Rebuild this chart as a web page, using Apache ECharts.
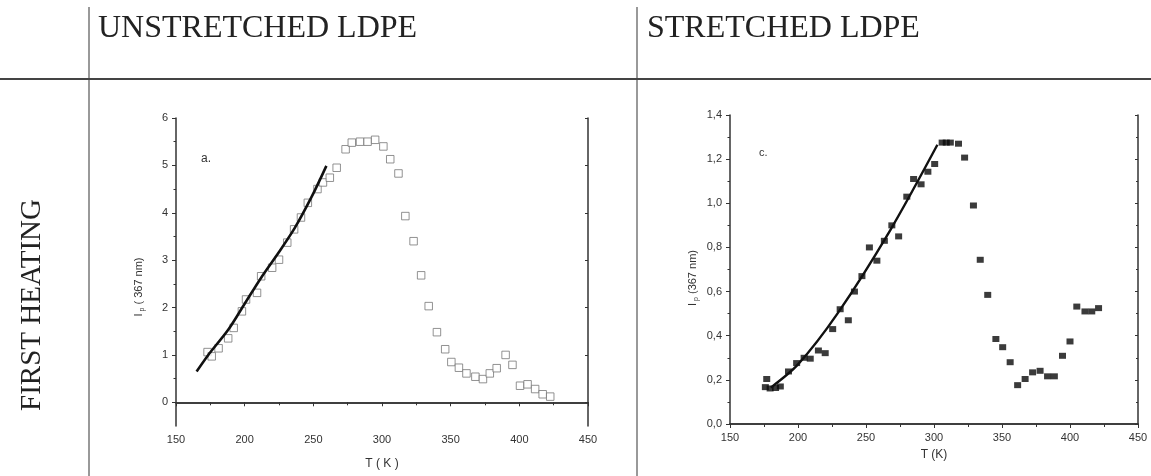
<!DOCTYPE html>
<html>
<head>
<meta charset="utf-8">
<script src="https://cdn.jsdelivr.net/npm/echarts@6/dist/echarts.min.js"></script>
<style>
  html, body {margin:0;padding:0;background:#fff;}
  #chart {width:1151px;height:476px;}
</style>
</head>
<body>
<div id="chart"></div>
<script>
// unstretched LDPE, open squares (T in K, Ip at 367 nm)
var leftT = [173,176,181,188,192,198,201,209,212,220,225,231,236,241,246,253,257,262,267,273.5,
  278,284,289.5,295,301,306,312,317,323,328.5,334,340,346,350.5,356,361.5,368,373.5,378.5,383.5,
  390,395,400.5,406,411.5,417,422.5];
var leftI = [1.06,0.97,1.14,1.35,1.57,1.92,2.17,2.31,2.66,2.84,3.01,3.37,3.65,3.9,4.21,4.5,4.64,4.74,4.95,5.34,
  5.48,5.5,5.5,5.54,5.4,5.13,4.83,3.93,3.4,2.68,2.03,1.48,1.12,0.85,0.73,0.61,0.54,0.49,0.61,0.72,
  1.0,0.79,0.35,0.38,0.28,0.17,0.12];
// fitted curve, left panel
var leftFitT = [165,173.5,188,200,212,224.5,236.5,249,259.5];
var leftFitI = [0.65,1.0,1.53,2.08,2.63,3.15,3.68,4.35,4.99];

// stretched LDPE, filled squares
var rightT = [176,177,179.5,183.5,187,193,199,204.5,209,215,220,225.5,231,237,241.5,247,252.5,258,263.5,269,
  274,280,285,290.5,295.5,300.5,306,309,312,318,322.5,329,334,339.5,345.5,350.5,356,361.5,367,372.5,
  378,383.5,388.5,394.5,400,405,411,416,421];
var rightI = [0.167,0.204,0.161,0.163,0.17,0.238,0.276,0.30,0.296,0.333,0.321,0.43,0.52,0.47,0.60,0.67,0.80,0.74,0.83,0.90,
  0.85,1.03,1.11,1.086,1.143,1.178,1.275,1.275,1.275,1.27,1.207,0.99,0.744,0.585,0.385,0.348,0.28,0.176,0.204,0.234,
  0.241,0.216,0.216,0.309,0.374,0.532,0.51,0.51,0.525];
var rightFitT = [180,200,229,268,302.5];
var rightFitI = [0.165,0.27,0.50,0.88,1.265];

// tick values
var leftYTicks = [0,1,2,3,4,5,6];
var leftYMinor = [0.5,1.5,2.5,3.5,4.5,5.5];

function pairs(xs, ys){
  return xs.map(function(x, i){ return [x, ys[i]]; });
}

var axisColor = '#333';
var labelFont = {fontFamily:'Liberation Sans', fontSize:11, color:'#333'};

function xMain(grid, name, gap){
  return {
    gridIndex: grid, type:'value', min:150, max:450, interval:50, position:'bottom',
    axisLine:{lineStyle:{color:axisColor, width:1.5}},
    axisTick:{inside:false, length:4, lineStyle:{color:axisColor}},
    minorTick:{show:true, splitNumber:2, length:3, lineStyle:{color:axisColor}},
    axisLabel:Object.assign({margin:8}, labelFont),
    splitLine:{show:false},
    name:name, nameLocation:'middle', nameGap:gap,
    nameTextStyle:{fontFamily:'Liberation Sans', fontSize:12, color:'#333'}
  };
}
function xTop(grid){
  return {
    gridIndex: grid, type:'value', min:150, max:450, interval:50, position:'top',
    axisLine:{lineStyle:{color:axisColor, width:1.5}},
    axisTick:{inside:true, length:3, lineStyle:{color:axisColor}},
    minorTick:{show:true, splitNumber:2, length:2, lineStyle:{color:axisColor}},
    axisLabel:{show:false}, splitLine:{show:false}
  };
}

function yName(shift){
  return {
    fontFamily:'Liberation Sans', fontSize:11, color:'#333', lineHeight:14,
    padding:[0, shift, 0, 0],
    rich:{
      i:{fontFamily:'Liberation Sans', fontSize:11, color:'#333', lineHeight:14},
      s:{fontFamily:'Liberation Sans', fontSize:7, color:'#333', lineHeight:7, verticalAlign:'bottom'},
      t:{fontFamily:'Liberation Sans', fontSize:11, color:'#333', lineHeight:14}
    }
  };
}

var option = {
  animation:false,
  backgroundColor:'#fff',
  grid:[
    {left:176, top:118, width:412, height:308},
    {left:730, top:115, width:408, height:309}
  ],
  xAxis:[
    xMain(0, 'T ( K )', 32),
    xTop(0),
    xMain(1, 'T (K)', 25),
    xTop(1)
  ],
  yAxis:[
    {
      gridIndex:0, type:'value', min:-0.5, max:6, position:'left',
      axisLine:{lineStyle:{color:axisColor, width:1.5}},
      axisTick:{length:4, customValues:leftYTicks, lineStyle:{color:axisColor}},
      axisLabel:Object.assign({margin:8, customValues:leftYTicks}, labelFont),
      splitLine:{show:false},
      name:'{i|I}{s| p}{t| ( 367 nm)}', nameLocation:'middle', nameGap:30, nameRotate:90,
      nameTextStyle:yName(30)
    },
    {
      gridIndex:0, type:'value', min:-0.5, max:6, position:'left',
      axisLine:{show:false},
      axisTick:{length:2.5, customValues:leftYMinor, lineStyle:{color:axisColor}},
      axisLabel:{show:false}, splitLine:{show:false}
    },
    {
      gridIndex:0, type:'value', min:-0.5, max:6, position:'right',
      axisLine:{lineStyle:{color:axisColor, width:1.5}},
      axisTick:{inside:true, length:3, customValues:leftYTicks, lineStyle:{color:axisColor}},
      axisLabel:{show:false}, splitLine:{show:false}
    },
    {
      gridIndex:1, type:'value', min:0, max:1.4, interval:0.2, position:'left',
      axisLine:{lineStyle:{color:axisColor, width:1.5}},
      axisTick:{length:4, lineStyle:{color:axisColor}},
      minorTick:{show:true, splitNumber:2, length:2.5, lineStyle:{color:axisColor}},
      axisLabel:Object.assign({margin:8, formatter:function(v){ return v.toFixed(1).replace('.', ','); }}, labelFont),
      splitLine:{show:false},
      name:'{i|I}{s| p}{t| (367 nm)}', nameLocation:'middle', nameGap:30, nameRotate:90,
      nameTextStyle:yName(17)
    },
    {
      gridIndex:1, type:'value', min:0, max:1.4, interval:0.2, position:'right',
      axisLine:{lineStyle:{color:axisColor, width:1.5}},
      axisTick:{inside:true, length:3, lineStyle:{color:axisColor}},
      minorTick:{show:true, splitNumber:2, length:2, lineStyle:{color:axisColor}},
      axisLabel:{show:false}, splitLine:{show:false}
    }
  ],
  series:[
    {
      type:'scatter', xAxisIndex:0, yAxisIndex:0, symbol:'rect', symbolSize:7.5,
      itemStyle:{color:'#fff', borderColor:'#777', borderWidth:1},
      data:pairs(leftT, leftI)
    },
    {
      type:'line', xAxisIndex:0, yAxisIndex:0, showSymbol:false, smooth:0.3,
      lineStyle:{color:'#111', width:2.6},
      data:pairs(leftFitT, leftFitI)
    },
    {
      type:'scatter', xAxisIndex:2, yAxisIndex:3, symbol:'rect', symbolSize:[7,6],
      itemStyle:{color:'#0a0a0a'},
      data:pairs(rightT, rightI)
    },
    {
      type:'line', xAxisIndex:2, yAxisIndex:3, showSymbol:false, smooth:0.3,
      lineStyle:{color:'#111', width:2.4},
      data:pairs(rightFitT, rightFitI)
    }
  ],
  graphic:[
    // table rules
    {type:'line', shape:{x1:89, y1:7, x2:89, y2:476}, style:{stroke:'#555', lineWidth:1.2}},
    {type:'line', shape:{x1:637, y1:7, x2:637, y2:476}, style:{stroke:'#555', lineWidth:1.2}},
    {type:'line', shape:{x1:0, y1:79, x2:1151, y2:79}, style:{stroke:'#444', lineWidth:2}},
    {type:'text', left:98, top:13, style:{text:'UNSTRETCHED LDPE', font:'32px "Liberation Serif"', fill:'#222'}},
    {type:'text', left:647, top:13, style:{text:'STRETCHED LDPE', font:'32px "Liberation Serif"', fill:'#222'}},
    {type:'text', x:32, y:305, rotation:Math.PI/2,
      style:{text:'FIRST HEATING', font:'29px "Liberation Serif"', fill:'#222', align:'center', verticalAlign:'middle'}},
    {type:'text', x:201, y:153, style:{text:'a.', font:'12px "Liberation Sans"', fill:'#333'}},
    {type:'text', x:759, y:147, style:{text:'c.', font:'11px "Liberation Sans"', fill:'#333'}}
  ]
};

echarts.init(document.getElementById('chart')).setOption(option);
</script>
</body>
</html>
